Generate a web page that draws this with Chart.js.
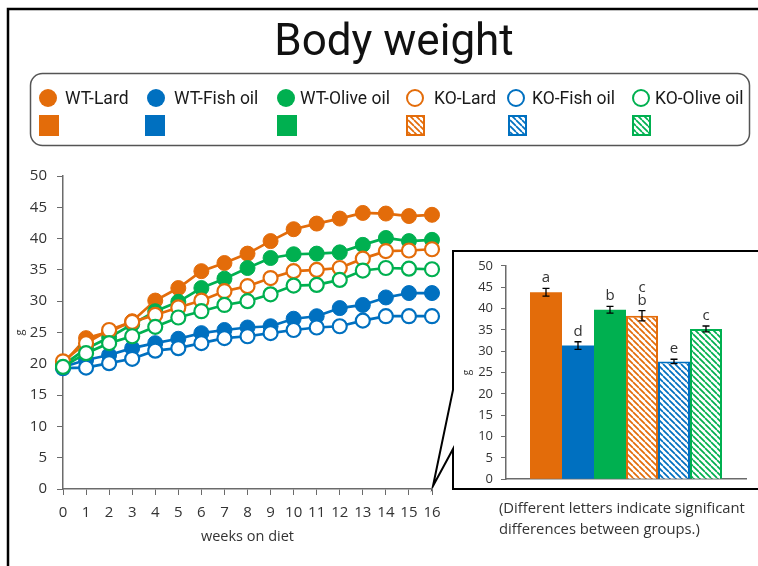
<!DOCTYPE html>
<html>
<head>
<meta charset="utf-8">
<script src="https://cdn.jsdelivr.net/npm/chart.js@4.4.1/dist/chart.umd.min.js"></script>
<style>
  body { margin: 0; width: 758px; height: 566px; overflow: hidden; background: #fff; position: relative; }
  .abs { position: absolute; white-space: nowrap; }
  .title { font-family: Roboto, sans-serif; font-size: 44px; line-height: 50px; color: #111; left: 0; width: 788px; text-align: center; top: 15px; }
  .leg { font-family: Roboto, sans-serif; font-size: 17.5px; line-height: 20px; color: #1a1a1a; top: 88px; }
  .cap { font-family: "Open Sans", sans-serif; font-size: 14.8px; line-height: 20px; color: #333; left: 499px; }
</style>
</head>
<body>
<canvas id="bg" class="abs" width="758" height="566" style="left:0;top:0"></canvas>
<div class="abs title">Body weight</div>
<div id="legendText"></div>
<canvas id="lineChart" class="abs" width="455" height="404" style="left:0;top:157px"></canvas>
<canvas id="barChart" class="abs" width="305" height="245" style="left:453px;top:250px"></canvas>
<div class="abs cap" style="top:497px">(Different letters indicate significant</div>
<div class="abs cap" style="top:518px">differences between groups.)</div>

<script>
// series names and colours
const seriesNames = ['WT-Lard', 'WT-Fish oil', 'WT-Olive oil', 'KO-Lard', 'KO-Fish oil', 'KO-Olive oil'];
const seriesColors = ['#E36C0A', '#0070C0', '#00B050', '#E36C0A', '#0070C0', '#00B050'];
const isKO = [false, false, false, true, true, true];

// weeks on diet (x axis)
const weeks = ['0', '1', '2', '3', '4', '5', '6', '7', '8', '9', '10', '11', '12', '13', '14', '15', '16'];

// body weight (g) per week
const wtLard  = [20.0, 24.1, 25.1, 26.8, 30.1, 32.1, 34.8, 36.1, 37.6, 39.6, 41.5, 42.4, 43.2, 44.1, 44.0, 43.6, 43.8];
const wtFish  = [19.5, 20.6, 21.4, 22.5, 23.3, 24.0, 24.9, 25.4, 25.8, 26.0, 27.2, 27.6, 28.9, 29.4, 30.6, 31.3, 31.3];
const wtOlive = [19.8, 22.4, 24.2, 26.3, 28.4, 29.9, 32.1, 33.6, 35.3, 36.9, 37.5, 37.6, 37.8, 39.0, 40.1, 39.6, 39.8];
const koLard  = [20.4, 23.3, 25.4, 26.7, 27.8, 29.0, 30.1, 31.6, 32.4, 33.7, 34.8, 35.0, 35.3, 36.8, 38.0, 38.1, 38.3];
const koFish  = [19.3, 19.4, 20.1, 20.8, 22.1, 22.5, 23.3, 24.1, 24.4, 24.9, 25.4, 25.8, 26.0, 26.9, 27.6, 27.6, 27.6];
const koOlive = [19.5, 21.7, 23.3, 24.4, 25.9, 27.4, 28.4, 29.4, 30.0, 31.1, 32.5, 32.6, 33.4, 34.9, 35.3, 35.2, 35.1];

// final weight (week 16) inset
const finalWeight = [43.8, 31.3, 39.7, 38.3, 27.6, 35.2];
const finalSem    = [0.9, 0.9, 0.8, 1.2, 0.5, 0.7];
const sigLetters  = [['a'], ['d'], ['b'], ['b', 'c'], ['e'], ['c']];

const yTicks = [0, 5, 10, 15, 20, 25, 30, 35, 40, 45, 50];

const axisColor = '#6b6b6b';
const tickFont = { family: 'Open Sans', size: 15 };

// hatched fill for the KO bars
function hatch(color) {
    const c = document.createElement('canvas');
    c.width = 6; c.height = 6;
    const g = c.getContext('2d');
    g.fillStyle = '#fff';
    g.fillRect(0, 0, 6, 6);
    g.strokeStyle = color;
    g.lineWidth = 1.7;
    g.beginPath();
    for (const o of [-6, 0, 6]) { g.moveTo(o, 0); g.lineTo(o + 6, 6); }
    g.stroke();
    return g.createPattern(c, 'repeat');
}

// ---- background: frame, legend box, inset callout ----
const bg = document.getElementById('bg').getContext('2d');
bg.strokeStyle = '#000';
bg.lineWidth = 2.5;
bg.strokeRect(8, 9, 820, 620);

bg.strokeStyle = '#555';
bg.lineWidth = 1.5;
bg.beginPath();
bg.roundRect(30.5, 73.5, 719, 72, 12);
bg.stroke();

const circleX = [48, 156, 286, 415, 516, 641];
const textX = [65, 174, 300, 434, 532, 655];
const squareX = [39, 145, 277, 406, 508, 632];
const legendText = document.getElementById('legendText');
seriesNames.forEach((name, i) => {
    const col = seriesColors[i];
    bg.beginPath();
    if (isKO[i]) {
        bg.arc(circleX[i], 98, 8, 0, Math.PI * 2);
        bg.fillStyle = '#fff';
        bg.fill();
        bg.strokeStyle = col;
        bg.lineWidth = 2;
        bg.stroke();
        bg.fillStyle = hatch(col);
        bg.fillRect(squareX[i], 115, 19, 21);
        bg.strokeRect(squareX[i] + 1, 116, 17, 19);
    } else {
        bg.arc(circleX[i], 98, 9, 0, Math.PI * 2);
        bg.fillStyle = col;
        bg.fill();
        bg.fillRect(squareX[i], 115, 20, 21);
    }
    const d = document.createElement('div');
    d.className = 'abs leg';
    d.style.left = textX[i] + 'px';
    d.textContent = name;
    legendText.appendChild(d);
});

// inset frame with pointer to the week-16 end of the line chart
bg.strokeStyle = '#000';
bg.lineWidth = 2;
bg.beginPath();
bg.moveTo(770, 251);
bg.lineTo(453, 251);
bg.lineTo(453, 390);
bg.lineTo(433, 486);
bg.lineTo(453, 449);
bg.lineTo(453, 489);
bg.lineTo(770, 489);
bg.stroke();

// ---- line chart ----
const lineSeries = [wtLard, wtFish, wtOlive, koLard, koFish, koOlive];
const lineDatasets = lineSeries.map((vals, i) => ({
    label: seriesNames[i],
    data: vals,
    borderColor: seriesColors[i],
    backgroundColor: isKO[i] ? '#fff' : seriesColors[i],
    pointBackgroundColor: isKO[i] ? '#fff' : seriesColors[i],
    pointBorderColor: seriesColors[i],
    borderWidth: 2.7,
    pointRadius: isKO[i] ? 7 : 7.5,
    pointBorderWidth: isKO[i] ? 2.2 : 1,
    tension: 0,
    order: 6 - i
}));

new Chart(document.getElementById('lineChart'), {
    type: 'line',
    data: { labels: weeks, datasets: lineDatasets },
    options: {
        responsive: false,
        animation: false,
        layout: { padding: { left: 0, right: 23, top: 12, bottom: 0 } },
        plugins: { legend: { display: false }, tooltip: { enabled: false } },
        scales: {
            x: {
                offset: false,
                grid: { drawOnChartArea: false, tickLength: 6, color: axisColor },
                border: { color: axisColor, width: 1.5 },
                ticks: { font: tickFont, color: '#333', padding: 9, maxRotation: 0, autoSkip: false },
                title: { display: true, text: 'weeks on diet', font: { family: 'Open Sans', size: 14.5 }, color: '#333', padding: { top: 0, bottom: 15 } },
                afterFit(s) { s.height = 72; }
            },
            y: {
                min: 0, max: 50,
                afterBuildTicks(s) { s.ticks = yTicks.map(v => ({ value: v })); },
                grid: { drawOnChartArea: false, tickLength: 6, color: axisColor },
                border: { color: axisColor, width: 1.5 },
                ticks: { font: tickFont, color: '#333', padding: 10 },
                title: { display: true, text: 'g', font: { family: 'Open Sans', size: 11 }, color: '#333', padding: { top: 13, bottom: 0 } },
                afterFit(s) { s.width = 63; }
            }
        }
    }
});

// ---- inset bar chart ----
const errorBars = {
    id: 'errorBars',
    afterDatasetsDraw(chart) {
        const ctx = chart.ctx;
        const y = chart.scales.y;
        ctx.save();
        chart.data.datasets.forEach((ds, i) => {
            const bar = chart.getDatasetMeta(i).data[0];
            const v = finalWeight[i], e = finalSem[i];
            const top = y.getPixelForValue(v + e), bot = y.getPixelForValue(v - e);
            ctx.strokeStyle = '#000';
            ctx.lineWidth = 1.3;
            ctx.beginPath();
            ctx.moveTo(bar.x, top); ctx.lineTo(bar.x, bot);
            ctx.moveTo(bar.x - 3.5, top); ctx.lineTo(bar.x + 3.5, top);
            ctx.moveTo(bar.x - 3.5, bot); ctx.lineTo(bar.x + 3.5, bot);
            ctx.stroke();
            ctx.fillStyle = '#333';
            ctx.font = '15px "Open Sans"';
            ctx.textAlign = 'center';
            ctx.textBaseline = 'alphabetic';
            sigLetters[i].forEach((t, k) => {
                ctx.fillText(t, bar.x, top - 6 - k * 13);
            });
        });
        ctx.restore();
    }
};

new Chart(document.getElementById('barChart'), {
    type: 'bar',
    data: {
        labels: [''],
        datasets: finalWeight.map((v, i) => ({
            label: seriesNames[i],
            data: [v],
            backgroundColor: isKO[i] ? hatch(seriesColors[i]) : seriesColors[i],
            borderColor: seriesColors[i],
            borderWidth: isKO[i] ? 2 : 0,
            barPercentage: 1,
            categoryPercentage: 0.8
        }))
    },
    options: {
        responsive: false,
        animation: false,
        layout: { padding: { left: 0, right: 12, top: 15, bottom: 8 } },
        plugins: { legend: { display: false }, tooltip: { enabled: false } },
        scales: {
            x: {
                grid: { display: false },
                border: { color: axisColor, width: 1.5 },
                ticks: { display: false },
                afterFit(s) { s.height = 0; }
            },
            y: {
                min: 0, max: 50,
                afterBuildTicks(s) { s.ticks = yTicks.map(v => ({ value: v })); },
                grid: { drawOnChartArea: false, tickLength: 5, color: axisColor },
                border: { color: axisColor, width: 1.5 },
                ticks: { font: { family: 'Open Sans', size: 13 }, color: '#333', padding: 8 },
                title: { display: true, text: 'g', font: { family: 'Open Sans', size: 10 }, color: '#333', padding: { top: 8, bottom: 0 } },
                afterFit(s) { s.width = 53; }
            }
        }
    },
    plugins: [errorBars]
});
</script>
</body>
</html>
